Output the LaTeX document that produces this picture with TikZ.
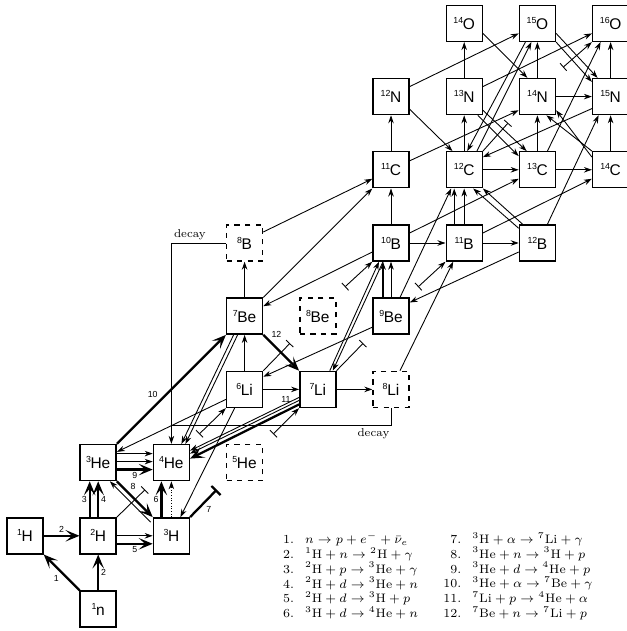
\documentclass[tikz,border=0pt]{standalone}
\usepackage{fontspec}
\newfontfamily\labelfont{Liberation Sans}
\usepackage{tikz}
\usetikzlibrary{arrows.meta, calc}

% isotope label: mass number up left, symbol below it
\newcommand{\iso}[2]{\raisebox{3.4pt}{\fontsize{5}{5}\selectfont #1}\kern-0.2pt#2}

\begin{document}
\begin{tikzpicture}[
        x=1.464cm, y=1.464cm,
        >={Stealth[length=1.6mm, width=1.1mm]},
        % nuclide boxes
        nuc/.style={
            draw,
            line width=0.8pt,
            minimum size=0.72cm,
            inner sep=0pt,
            font=\labelfont\fontsize{8.8}{10}\selectfont
        },
        unstable/.style={nuc, dashed},
        % reaction flows
        flow/.style={->, line width=0.5pt},
        heavy/.style={line width=1.3pt, -{Stealth[length=2.8mm, width=2.3mm, inset=1.3mm]}},
        capture/.style={line width=0.5pt, -{Bar[width=2mm]}},
        release/.style={line width=0.5pt, {Bar[width=2mm]}-{Stealth[length=1.6mm, width=1.1mm]}},
        num/.style={font=\labelfont\fontsize{5}{6}\selectfont, inner sep=1pt},
        decaylabel/.style={font=\fontsize{6.5}{8}\selectfont, inner sep=1.5pt}
    ]
    \useasboundingbox (-0.3415,-0.3005) rectangle (8.2104,8.3197);

    % ==========================================
    % NUCLIDES
    % ==========================================
    \node[nuc] (n1)  at (1,0) {\iso{1}{n}};
    \node[nuc] (H1)  at (0,1) {\iso{1}{H}};
    \node[nuc] (H2)  at (1,1) {\iso{2}{H}};
    \node[nuc] (H3)  at (2,1) {\iso{3}{H}};
    \node[nuc] (He3) at (1,2) {\iso{3}{He}};
    \node[nuc] (He4) at (2,2) {\iso{4}{He}};
    \node[unstable] (He5) at (3,2) {\iso{5}{He}};
    \node[nuc] (Li6) at (3,3) {\iso{6}{Li}};
    \node[nuc] (Li7) at (4,3) {\iso{7}{Li}};
    \node[unstable] (Li8) at (5,3) {\iso{8}{Li}};
    \node[nuc] (Be7) at (3,4) {\iso{7}{Be}};
    \node[unstable] (Be8) at (4,4) {\iso{8}{Be}};
    \node[nuc] (Be9) at (5,4) {\iso{9}{Be}};
    \node[unstable] (B8) at (3,5) {\iso{8}{B}};
    \node[nuc] (B10) at (5,5) {\iso{10}{B}};
    \node[nuc] (B11) at (6,5) {\iso{11}{B}};
    \node[nuc] (B12) at (7,5) {\iso{12}{B}};
    \node[nuc] (C11) at (5,6) {\iso{11}{C}};
    \node[nuc] (C12) at (6,6) {\iso{12}{C}};
    \node[nuc] (C13) at (7,6) {\iso{13}{C}};
    \node[nuc] (C14) at (8,6) {\iso{14}{C}};
    \node[nuc] (N12) at (5,7) {\iso{12}{N}};
    \node[nuc] (N13) at (6,7) {\iso{13}{N}};
    \node[nuc] (N14) at (7,7) {\iso{14}{N}};
    \node[nuc] (N15) at (8,7) {\iso{15}{N}};
    \node[nuc] (O14) at (6,8) {\iso{14}{O}};
    \node[nuc] (O15) at (7,8) {\iso{15}{O}};
    \node[nuc] (O16) at (8,8) {\iso{16}{O}};

    % alpha capture stubs
    \coordinate (t1) at (1.64,1.63);
    \coordinate (t2) at (2.38,2.39);
    \coordinate (t3) at (2.62,1.63);
    \coordinate (t4) at (3.39,2.39);
    \coordinate (t5) at (3.62,3.63);
    \coordinate (t6) at (4.37,4.40);
    \coordinate (t7) at (4.62,3.63);
    \coordinate (t8) at (5.37,4.40);
    \coordinate (t9) at (6.60,6.64);
    \coordinate (t10) at (7.35,7.40);
    \coordinate (decay_join) at (2,2.51);

    % ==========================================
    % HYDROGEN AND HELIUM
    % ==========================================
    \draw[heavy] (n1.north west) -- (H1.south east) node[num, midway, below left] {1};
    \draw[heavy] (n1) -- (H2) node[num, midway, right] {2};
    \draw[heavy] (H1) -- (H2) node[num, midway, above] {2};
    \draw[heavy] ([xshift=-1.7mm]H2.north) -- ([xshift=-1.7mm]He3.south) node[num, midway, left] {3};
    \draw[heavy] (H2.north) -- (He3.south) node[num, midway, right] {4};
    \draw[flow] (H2) -- (H3);
    \draw[heavy] ([yshift=-1.6mm]H2.east) -- ([yshift=-1.6mm]H3.west) node[num, midway, below] {5};
    \draw[heavy] ([xshift=-2mm]H3.north) -- ([xshift=-2mm]He4.south) node[num, midway, left] {6};
    \draw[flow, densely dotted] (H3) -- (He4);
    \draw[heavy, -{Bar[width=2.6mm]}] (H3.north east) -- (t3) node[num, midway, below right] {7};
    \draw[heavy] (He3.south east) -- (H3.north west) node[num, pos=0.3, above right] {8};
    \draw[flow] ([xshift=-0.4mm, yshift=-1mm]H3.north west) -- ([xshift=-1.4mm]He3.south east);
    \draw[flow] ([yshift=1.8mm]He3.east) -- ([yshift=1.8mm]He4.west);
    \draw[flow] ([yshift=0.2mm]He3.east) -- ([yshift=0.2mm]He4.west);
    \draw[heavy] ([yshift=-1.4mm]He3.east) -- ([yshift=-1.4mm]He4.west) node[num, midway, below] {9};
    \draw[capture] (H2.north east) -- (t1);

    % ==========================================
    % LITHIUM AND BERYLLIUM
    % ==========================================
    \draw[heavy] (He3.north east) -- (Be7.south west) node[num, pos=0.4, above left] {10};
    \draw[flow] ([yshift=-2mm]Li6.west) -- ([yshift=-1.6mm]He3.north east);
    \draw[flow] ([xshift=-2mm]Li6.south) -- ([xshift=1.8mm]H3.north);
    \draw[release] (t2) -- (Li6.south west);
    \draw[flow] ([xshift=-2.2mm]Be7.south) -- ([xshift=2mm]He4.north);
    \draw[flow] ([xshift=-1.4mm]Be7.south) -- ([xshift=2.8mm]He4.north);
    \draw[flow] ([yshift=-1.6mm]Li7.west) -- ([yshift=2.4mm]He4.east);
    \draw[flow] ([yshift=-2.2mm]Li7.west) -- ([yshift=1.8mm]He4.east);
    \draw[heavy] ([yshift=-3mm]Li7.west) -- ([yshift=0.8mm]He4.east) node[num, pos=0.12, above=1.2mm] {11};
    \draw[release] (t4) -- (Li7.south west);
    \draw[heavy] (Be7.south east) -- (Li7.north west) node[num, pos=0.15, above right] {12};
    \draw[flow] (Li6) -- (Be7);
    \draw[flow] (Li6) -- (Li7);
    \draw[flow] (Li7) -- (Li8);
    \draw[flow] (Be7) -- (B8);
    \draw[capture] (Li6.north east) -- (t5);
    \draw[release] (t6) -- (B10.south west);
    \draw[capture] (Li7.north east) -- (t7);
    \draw[release] (t8) -- (B11.south west);
    \draw[flow] ([yshift=-2.2mm]Be9.west) -- ([yshift=-1.2mm]Li6.north east);
    \draw[flow] ([xshift=2.4mm]Li7.north) -- ([xshift=-2.4mm]B10.south);
    \draw[flow] ([xshift=-1.6mm]B10.south) -- ([xshift=3mm]Li7.north);
    \draw[flow] ([xshift=1.8mm]Li8.north) -- ([xshift=-2.2mm]B11.south);

    % decays
    \draw[flow] (B8.west) -| (He4.north) node[decaylabel, pos=0.33, above] {decay};
    \draw[line width=0.5pt] (Li8.south) |- (decay_join) node[decaylabel, pos=0.54, below] {decay};

    % ==========================================
    % BORON AND CARBON
    % ==========================================
    \draw[flow] (Be7.north east) -- (C11.south west);
    \draw[flow] ([yshift=2.2mm]B8.east) -- ([yshift=-1.8mm]C11.west);
    \draw[flow] ([yshift=-1.8mm]B10.west) -- ([yshift=2mm]Be7.east);
    \draw[flow] (B10) -- (C11);
    \draw[flow] (B10) -- (B11);
    \draw[flow] (B11) -- (B12);
    \draw[flow, line width=0.8pt] ([xshift=-1.6mm]Be9.north) -- ([xshift=-1.6mm]B10.south);
    \draw[flow] (Be9) -- (B10);
    \draw[flow] ([xshift=1.8mm]Be9.north) -- ([xshift=-2.6mm]C12.south);
    \draw[flow] ([yshift=-1.8mm]B12.west) -- ([yshift=-1mm]Be9.north east);
    \draw[flow, line width=0.8pt] ([xshift=-2mm]B11.north) -- ([xshift=-2mm]C12.south);
    \draw[flow] (B11) -- (C12);
    \draw[flow] ([yshift=2mm]B10.east) -- ([yshift=-1.8mm]C13.west);
    \draw[flow] ([yshift=2mm]B11.east) -- ([yshift=-1.8mm]C14.west);
    \draw[flow] ([yshift=-0.8mm]B12.north west) -- ([xshift=1.8mm]C12.south);
    \draw[flow] ([xshift=0.8mm]B12.north west) -- (C12.south east);
    \draw[flow] ([xshift=2mm]B12.north) -- ([xshift=-2.4mm]N15.south);
    \draw[flow] (C12) -- (C13);
    \draw[flow] (C13) -- (C14);

    % ==========================================
    % NITROGEN AND OXYGEN
    % ==========================================
    \draw[flow] (C11) -- (N12);
    \draw[flow] (C12) -- (N13);
    \draw[flow] (C13) -- (N14);
    \draw[flow] (C14) -- (N15);
    \draw[flow] (N14) -- (N15);
    \draw[flow] ([yshift=1.2mm]N12.south east) -- ([xshift=1.4mm]C12.north west);
    \draw[flow] ([yshift=1mm]N13.south east) -- ([xshift=1.6mm]C13.north west);
    \draw[flow] ([xshift=-1mm]N13.south east) -- ([yshift=-1mm]C13.north west);
    \draw[flow] (C14.north west) -- ([xshift=1.8mm]N14.south);
    \draw[flow] ([yshift=-1.2mm]C14.north west) -- ([yshift=1mm]N14.south east);
    \draw[flow] ([yshift=-2.4mm]N15.west) -- ([yshift=-1.2mm]C12.north east);
    \draw[flow] ([yshift=1.8mm]C11.east) -- ([yshift=1mm]N14.south west);
    \draw[capture] (C12.north east) -- (t9);
    \draw[release] (t10) -- (O16.south west);
    \draw[flow] (N13) -- (O14);
    \draw[flow] (N14) -- (O15);
    \draw[flow] (N15) -- (O16);
    \draw[flow] ([yshift=2mm]N12.east) -- ([yshift=-2mm]O15.west);
    \draw[flow] ([yshift=2mm]N13.east) -- ([yshift=-2mm]O16.west);
    \draw[flow] ([yshift=-2mm]O14.east) -- ([xshift=-2mm]N14.north);
    \draw[flow] ([yshift=-2mm]O15.east) -- ([xshift=-2.6mm]N15.north);
    \draw[flow] (O15.south east) -- ([yshift=-0.8mm]N15.north west);
    \draw[flow] ([xshift=-2.4mm]O15.south) -- ([xshift=0.6mm]C12.north);
    \draw[flow] ([xshift=-1.2mm]C12.north east) -- ([xshift=-1.2mm]O15.south);
    \draw[flow] ([xshift=2mm]C13.north) -- ([xshift=-2mm]O16.south);

    % ==========================================
    % REACTION LIST
    % ==========================================
    \node[anchor=west, font=\fontsize{7}{7.4}\selectfont, inner sep=0pt] (eqs_a) at (3.52,0.437) {%
        \begin{tabular}{@{}r@{\hspace{0.9em}}l@{}}
        1. & $n\rightarrow p+e^-+\bar{\nu}_e$\\
        2. & $^{1}\mathrm{H}+n\rightarrow{}^{2}\mathrm{H}+\gamma$\\
        3. & $^{2}\mathrm{H}+p\rightarrow{}^{3}\mathrm{He}+\gamma$\\
        4. & $^{2}\mathrm{H}+d\rightarrow{}^{3}\mathrm{He}+n$\\
        5. & $^{2}\mathrm{H}+d\rightarrow{}^{3}\mathrm{H}+p$\\
        6. & $^{3}\mathrm{H}+d\rightarrow{}^{4}\mathrm{He}+n$
        \end{tabular}};
    \node[anchor=west, font=\fontsize{7}{7.4}\selectfont, inner sep=0pt] (eqs_b) at (5.71,0.437) {%
        \begin{tabular}{@{}r@{\hspace{0.9em}}l@{}}
        7. & $^{3}\mathrm{H}+\alpha\rightarrow{}^{7}\mathrm{Li}+\gamma$\\
        8. & $^{3}\mathrm{He}+n\rightarrow{}^{3}\mathrm{H}+p$\\
        9. & $^{3}\mathrm{He}+d\rightarrow{}^{4}\mathrm{He}+p$\\
        10. & $^{3}\mathrm{He}+\alpha\rightarrow{}^{7}\mathrm{Be}+\gamma$\\
        11. & $^{7}\mathrm{Li}+p\rightarrow{}^{4}\mathrm{He}+\alpha$\\
        12. & $^{7}\mathrm{Be}+n\rightarrow{}^{7}\mathrm{Li}+p$
        \end{tabular}};

\end{tikzpicture}
\end{document}
